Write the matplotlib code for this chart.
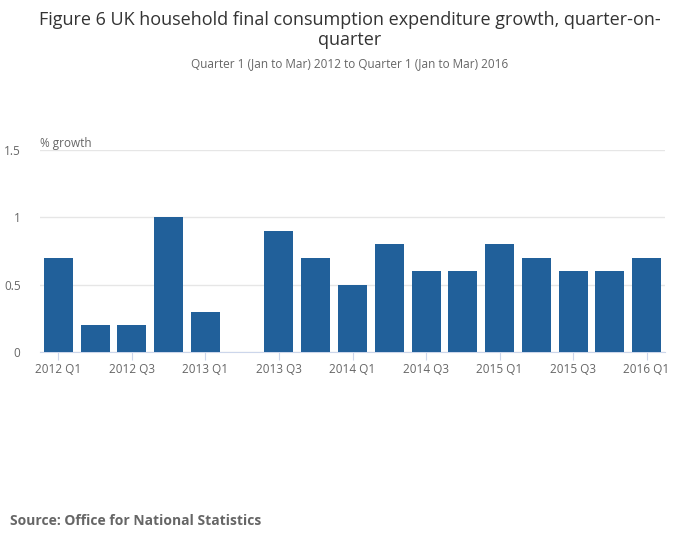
import numpy as np
import matplotlib.pyplot as plt

plt.rcParams['font.family'] = ['Open Sans', 'DejaVu Sans']

quarters = ["2012 Q1", "2012 Q2", "2012 Q3", "2012 Q4",
            "2013 Q1", "2013 Q2", "2013 Q3", "2013 Q4",
            "2014 Q1", "2014 Q2", "2014 Q3", "2014 Q4",
            "2015 Q1", "2015 Q2", "2015 Q3", "2015 Q4",
            "2016 Q1"]
growth = [0.7, 0.2, 0.2, 1.0, 0.3, 0.0, 0.9, 0.7, 0.5, 0.8,
          0.6, 0.6, 0.8, 0.7, 0.6, 0.6, 0.7]
yticks = [0, 0.5, 1, 1.5]
ytick_labels = ["0", "0.5", "1", "1.5"]

fig = plt.figure(figsize=(7, 5.49), dpi=100)
ax = fig.add_axes([40 / 700, 1 - 352 / 549, 625 / 700, 202 / 549])

x = np.arange(len(quarters))
ax.bar(x, growth, width=0.79, color='#21609a', zorder=3)

ax.set_xlim(-0.5, len(quarters) - 0.5)
ax.set_ylim(0, 1.5)
ax.set_yticks(yticks)
ax.set_yticklabels(ytick_labels)
ax.set_xticks(x[::2])
ax.set_xticklabels(quarters[::2])

ax.grid(axis='y', color='#e6e6e6', linewidth=1, zorder=0)
for s in ['top', 'right', 'left']:
    ax.spines[s].set_visible(False)
ax.spines['bottom'].set_color('#ccd6eb')
ax.tick_params(axis='y', length=0, pad=14, labelsize=8.5, labelcolor='#666666')
ax.tick_params(axis='x', length=6, color='#ccd6eb', pad=2, labelsize=8.5,
               labelcolor='#666666')

ax.text(0, 1.5, "% growth", transform=ax.get_yaxis_transform(),
        fontsize=8.5, color='#666666', ha='left', va='bottom')

fig.text(0.5, 1 - 20 / 549,
         "Figure 6 UK household final consumption expenditure growth, quarter-on-",
         ha='center', va='center', fontsize=13, color='#333333')
fig.text(0.5, 1 - 40 / 549, "quarter",
         ha='center', va='center', fontsize=13, color='#333333')
fig.text(0.5, 1 - 64 / 549,
         "Quarter 1 (Jan to Mar) 2012 to Quarter 1 (Jan to Mar) 2016",
         ha='center', va='center', fontsize=8.5, color='#666666')
fig.text(10 / 700, 1 - 521 / 549, "Source: Office for National Statistics",
         ha='left', va='center', fontsize=10, fontweight='bold', color='#666666')

fig.savefig("out.png", dpi=100)
